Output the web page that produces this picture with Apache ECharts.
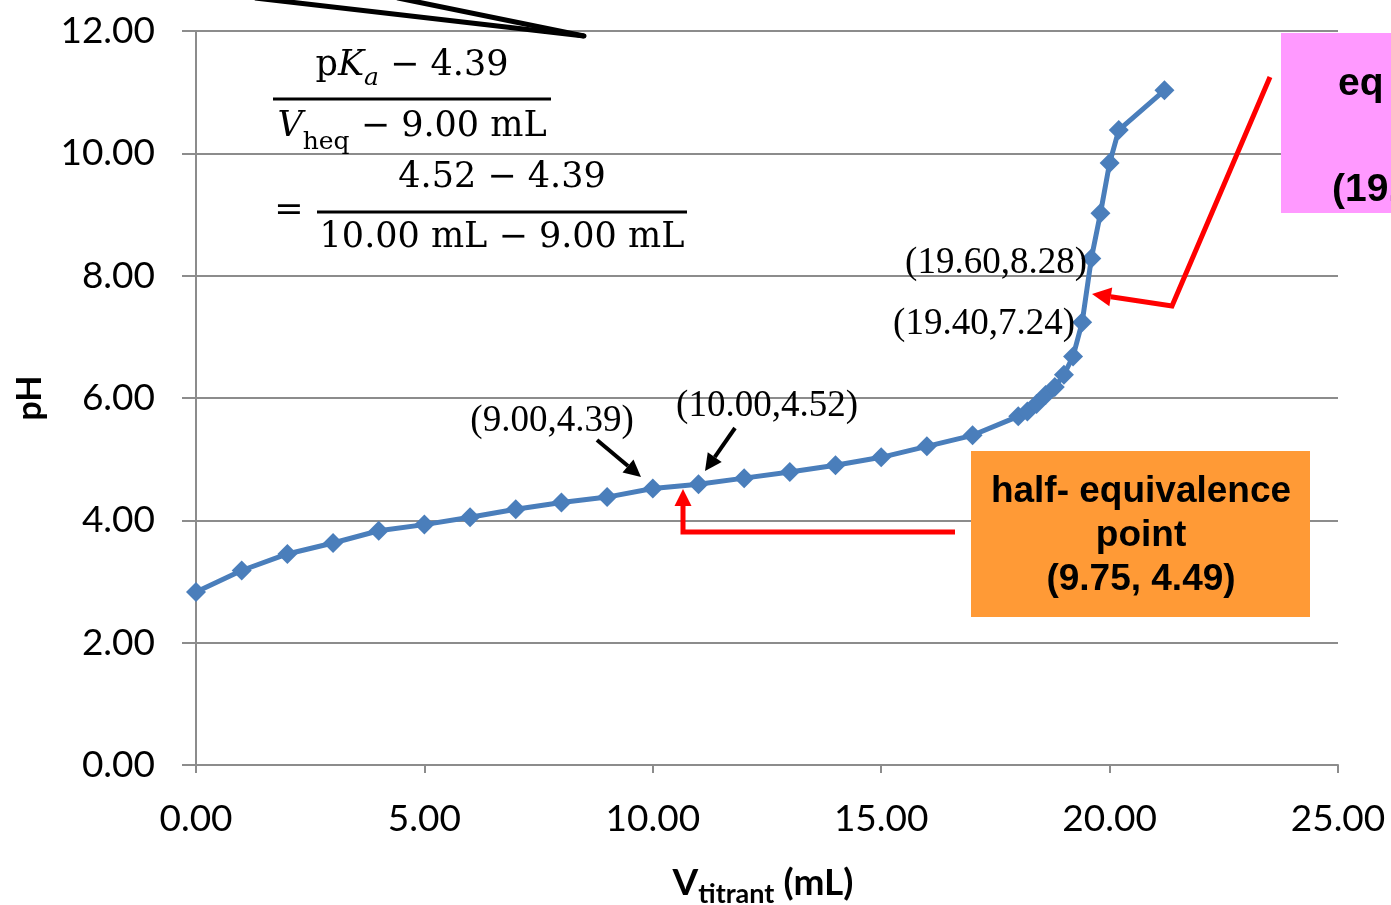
<!DOCTYPE html>
<html>
<head>
<meta charset="utf-8">
<script src="https://cdn.jsdelivr.net/npm/echarts@6/dist/echarts.min.js"></script>
<style>
html, body { margin: 0; padding: 0; background: #fff; }
#chart { width: 1391px; height: 905px; }
</style>
</head>
<body>
<div id="chart"></div>
<script>
// titrant volume (mL)
let volume = [0, 1, 2, 3, 4, 5, 6, 7, 8, 9, 10, 11, 12, 13, 14, 15, 16, 17,
    18, 18.2, 18.4, 18.6, 18.8, 19.0, 19.2, 19.4, 19.6, 19.8, 20.0, 20.2, 21.2];
// measured pH
let pH = [2.83, 3.18, 3.45, 3.63, 3.83, 3.93, 4.05, 4.18, 4.29, 4.38, 4.52, 4.59, 4.69, 4.79, 4.90, 5.03, 5.21, 5.39,
    5.70, 5.78, 5.90, 6.05, 6.18, 6.38, 6.68, 7.24, 8.28, 9.02, 9.84, 10.38, 11.03];
// point labels
let pointLabels = ['(9.00,4.39)', '(10.00,4.52)', '(19.60,8.28)', '(19.40,7.24)'];
let halfEqText = ['half- equivalence', 'point', '(9.75, 4.49)'];
let eqText = ['equivalence', 'point', '(19.75, 9.00)'];

let seriesData = volume.map((v, i) => [v, pH[i]]);

// 画箭头：线段 + 三角形箭头
function arrow(pts, color, width, head) {
    let n = pts.length;
    let tip = pts[n - 1], prev = pts[n - 2];
    let dx = tip[0] - prev[0], dy = tip[1] - prev[1];
    let len = Math.sqrt(dx * dx + dy * dy);
    let ux = dx / len, uy = dy / len;
    let bx = tip[0] - ux * head, by = tip[1] - uy * head;
    let px = -uy * head * 0.5, py = ux * head * 0.5;
    let line = pts.slice(0, n - 1).concat([[bx, by]]);
    return [
        { type: 'polyline', z: 100, shape: { points: line }, style: { stroke: color, lineWidth: width, fill: null, lineJoin: 'miter' } },
        { type: 'polygon', z: 100, shape: { points: [tip, [bx + px, by + py], [bx - px, by - py]] }, style: { fill: color } }
    ];
}

let serif = 'DejaVu Serif';
let fs = 35;
let big = { fontFamily: serif, fontSize: fs, fill: '#000' };
let bigIt = { fontFamily: serif, fontSize: fs, fontStyle: 'italic', fill: '#000' };
let subIt = { fontFamily: serif, fontSize: 25, fontStyle: 'italic', lineHeight: 25, padding: [24, 0, 0, 0], fill: '#000' };
let sub = { fontFamily: serif, fontSize: 25, lineHeight: 25, padding: [30, 0, 0, 0], fill: '#000' };
let plain = fs + 'px "DejaVu Serif"';
let boxFont = 'bold 39px "Liberation Sans"';
let boxRich = { fontFamily: 'Liberation Sans', fontWeight: 'bold', fontSize: 39, fill: '#000' };

let graphics = [
    // 顶部黑线
    { type: 'line', z: 100, shape: { x1: 255, y1: -2, x2: 584, y2: 36 }, style: { stroke: '#000', lineWidth: 5 } },
    { type: 'line', z: 100, shape: { x1: 398, y1: -2, x2: 584, y2: 36 }, style: { stroke: '#000', lineWidth: 5, lineCap: 'round' } },
    // 公式
    { type: 'text', z: 100, x: 412, y: 66, style: { text: '{r|p}{i|K}{s|a}{r| − 4.39}', align: 'center', verticalAlign: 'middle', rich: { r: big, i: bigIt, s: subIt } } },
    { type: 'line', z: 100, shape: { x1: 273, y1: 99, x2: 551, y2: 99 }, style: { stroke: '#000', lineWidth: 3 } },
    { type: 'text', z: 100, x: 412, y: 127, style: { text: '{i|V}{s|heq}{r| − 9.00 mL}', align: 'center', verticalAlign: 'middle', rich: { r: big, i: bigIt, s: sub } } },
    { type: 'text', z: 100, x: 289, y: 211, style: { text: '=', font: plain, fill: '#000', align: 'center', verticalAlign: 'middle' } },
    { type: 'text', z: 100, x: 502, y: 178, style: { text: '4.52 − 4.39', font: plain, fill: '#000', align: 'center', verticalAlign: 'middle' } },
    { type: 'line', z: 100, shape: { x1: 317, y1: 212, x2: 687, y2: 212 }, style: { stroke: '#000', lineWidth: 3 } },
    { type: 'text', z: 100, x: 502, y: 238, style: { text: '10.00 mL − 9.00 mL', font: plain, fill: '#000', align: 'center', verticalAlign: 'middle' } },
    // 点标签
    { type: 'text', z: 100, x: 552, y: 421, style: { text: pointLabels[0], font: '37px "Liberation Serif"', fill: '#000', align: 'center', verticalAlign: 'middle' } },
    { type: 'text', z: 100, x: 767, y: 406, style: { text: pointLabels[1], font: '37px "Liberation Serif"', fill: '#000', align: 'center', verticalAlign: 'middle' } },
    { type: 'text', z: 100, x: 996, y: 263, style: { text: pointLabels[2], font: '37px "Liberation Serif"', fill: '#000', align: 'center', verticalAlign: 'middle' } },
    { type: 'text', z: 100, x: 984, y: 324, style: { text: pointLabels[3], font: '37px "Liberation Serif"', fill: '#000', align: 'center', verticalAlign: 'middle' } },
    // 橙色框
    { type: 'rect', z: 90, shape: { x: 971, y: 451, width: 339, height: 166 }, style: { fill: '#ff9a36' } },
    { type: 'text', z: 100, x: 1141, y: 536, style: { text: halfEqText.join('\n'), font: 'bold 37px "Liberation Sans"', lineHeight: 44, fill: '#000', align: 'center', verticalAlign: 'middle' } },
    // 粉色框（超出画布部分被裁掉）
    { type: 'rect', z: 90, shape: { x: 1281, y: 33, width: 339, height: 180 }, style: { fill: '#ff99ff' } },
    { type: 'text', z: 100, x: 1338, y: 84, style: {
        text: '{a|' + eqText[0].slice(0, 2) + '}{b|' + eqText[0].slice(2) + '}', align: 'left', verticalAlign: 'middle',
        rich: { a: boxRich, b: Object.assign({ padding: [0, 0, 0, 8] }, boxRich) }
    } },
    { type: 'text', z: 100, x: 1456, y: 137, style: { text: eqText[1], font: boxFont, fill: '#000', align: 'center', verticalAlign: 'middle' } },
    { type: 'text', z: 100, x: 1332, y: 190, style: { text: eqText[2], font: boxFont, fill: '#000', align: 'left', verticalAlign: 'middle' } },
    // 轴标题
    { type: 'text', z: 100, x: 30, y: 398, rotation: Math.PI / 2, style: { text: 'pH', font: 'bold 34px Lato', fill: '#000', align: 'center', verticalAlign: 'middle' } },
    { type: 'text', z: 100, x: 763, y: 883, style: {
        text: '{v|V}{s|titrant}{v| (mL)}', align: 'center', verticalAlign: 'middle',
        rich: {
            v: { fontFamily: 'Lato', fontWeight: 'bold', fontSize: 37, fill: '#000' },
            s: { fontFamily: 'Lato', fontWeight: 'bold', fontSize: 27, lineHeight: 27, padding: [22, 0, 0, 0], fill: '#000' }
        }
    } }
];
graphics = graphics
    .concat(arrow([[597, 440], [641, 477]], '#000', 4, 17))
    .concat(arrow([[735, 428], [705, 471]], '#000', 4, 17))
    .concat(arrow([[955, 532], [683, 532], [683, 489]], '#ff0000', 5, 17))
    .concat(arrow([[1270, 77], [1172, 306], [1092, 294]], '#ff0000', 5, 19));

let chart = echarts.init(document.getElementById('chart'));
chart.setOption({
    animation: false,
    backgroundColor: '#fff',
    grid: { left: 196, right: 53, top: 31, bottom: 140, containLabel: false },
    xAxis: {
        type: 'value', min: 0, max: 25, interval: 5,
        axisLine: { show: true, lineStyle: { color: '#8c8c8c', width: 2 } },
        axisTick: { show: true, length: 8, lineStyle: { color: '#8c8c8c', width: 2 } },
        splitLine: { show: false },
        axisLabel: { margin: 36, color: '#000', fontFamily: 'Lato', fontSize: 37, formatter: v => v.toFixed(2) }
    },
    yAxis: {
        type: 'value', min: 0, max: 12, interval: 2,
        axisLine: { show: true, lineStyle: { color: '#8c8c8c', width: 2 } },
        axisTick: { show: true, length: 14, lineStyle: { color: '#8c8c8c', width: 2 } },
        splitLine: { show: true, lineStyle: { color: '#8c8c8c', width: 2 } },
        axisLabel: { margin: 41, color: '#000', fontFamily: 'Lato', fontSize: 37, formatter: v => v.toFixed(2) }
    },
    series: [{
        type: 'line',
        data: seriesData,
        symbol: 'diamond',
        symbolSize: 20,
        showAllSymbol: true,
        lineStyle: { color: '#4a7ebb', width: 5 },
        itemStyle: { color: '#4a7ebb' },
        z: 5
    }],
    graphic: graphics
});
</script>
</body>
</html>
